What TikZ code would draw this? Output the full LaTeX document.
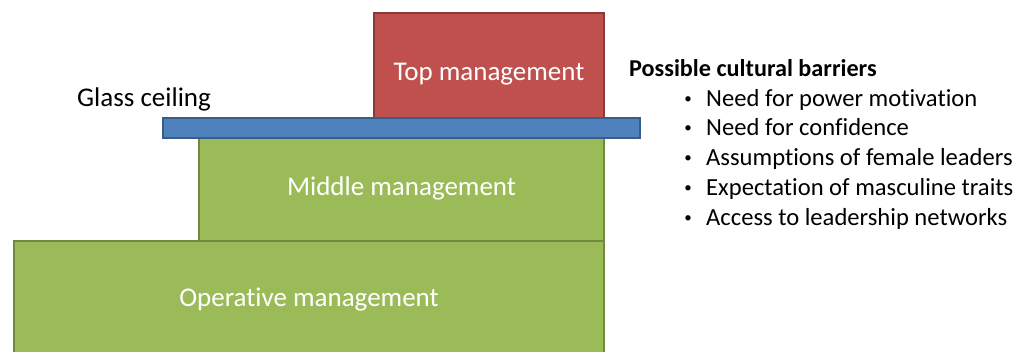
\documentclass[tikz,border=0pt]{standalone}
\usepackage{fontspec}
\setmainfont{Carlito}[Ligatures=NoCommon]
\usepackage{xcolor}
\definecolor{opgreen}{HTML}{9BBB59}
\definecolor{opgreenline}{HTML}{71893F}
\definecolor{topred}{HTML}{C0504D}
\definecolor{topredline}{HTML}{8C3836}
\definecolor{ceilblue}{HTML}{4F81BD}
\definecolor{ceilblueline}{HTML}{385D8A}
\tikzset{>=latex,
    tier/.style={draw=opgreenline, fill=opgreen, line width=2pt, text=white,
      font=\fontsize{27}{32}\selectfont, text height=20pt, text depth=2pt,
      inner sep=0pt, anchor=north west},
    toptier/.style={tier, draw=topredline, fill=topred},
    ceiling/.style={draw=ceilblueline, fill=ceilblue, line width=2pt,
      inner sep=0pt, anchor=north west},
    barrier/.style={font=\fontsize{24.6}{29}\selectfont, inner sep=0pt, anchor=base west}}

\begin{document}
\begin{tikzpicture}[x=1pt,y=-1pt]
    \useasboundingbox (0,0) rectangle (1032,351);
    % the three levels, drawn bottom up
    \node[tier, minimum width=590pt, minimum height=113pt] (operative) at (13,240) {Operative management};
    \node[tier, minimum width=405pt, minimum height=110pt] (middle) at (198,130) {Middle management};
    \node[toptier, minimum width=230pt, minimum height=116pt] (topmgmt) at (373,12) {Top management};
    % ceiling bar lies over the levels
    \node[ceiling, minimum width=477pt, minimum height=20pt] (ceiling) at (162,117) {};
    \node[anchor=base west, inner sep=0pt, font=\fontsize{27}{32}\selectfont] (ceilinglabel) at (77,106) {Glass ceiling};
    % list of barriers
    \node[barrier, font=\fontsize{24.2}{29}\selectfont\bfseries] (barriers) at (629,76.5) {Possible cultural barriers};
    \foreach \txt [count=\i] in {Need for power motivation, Need for confidence,
      Assumptions of female leaders, Expectation of masculine traits,
      Access to leadership networks} {
      \node[barrier, anchor=base, font=\fontsize{15}{18}\selectfont] (dot\i) at (688,{73.5+29.7*\i}) {\textbullet};
      \node[barrier] (barrier\i) at (706,{76.5+29.7*\i}) {\txt};
    }
\end{tikzpicture}
\end{document}
